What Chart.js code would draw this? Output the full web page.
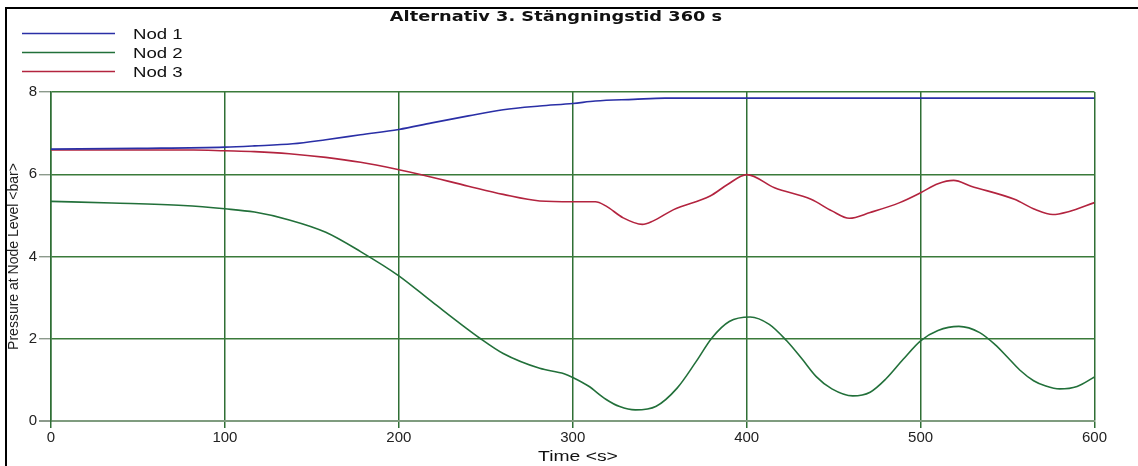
<!DOCTYPE html>
<html lang="sv">
<head>
    <meta charset="UTF-8">
    <title>Alternativ 3. Stängningstid 360 s</title>
    <script src="https://cdn.jsdelivr.net/npm/chart.js@4.4.1/dist/chart.umd.min.js"></script>
    <style>
        body {
            margin: 0;
            padding: 0;
            background: #ffffff;
        }
        .wrap {
            position: relative;
            width: 1138px;
            height: 466px;
        }
    </style>
</head>
<body>
    <div class="wrap">
        <canvas id="pressureChart"></canvas>
    </div>
    <script>
        const chartTitle = 'Alternativ 3. Stängningstid 360 s';
        const xTitle = 'Time <s>';
        const yTitle = 'Pressure at Node Level <bar>';
        const seriesNames = ['Nod 1', 'Nod 2', 'Nod 3'];

        // Nod 1 - pressure (bar) against time (s)
        const nod1Time = [0, 50, 100, 117, 139, 158, 178, 200, 219, 240, 260, 281, 300, 313, 335, 353, 400, 500, 600];
        const nod1Bar  = [6.61, 6.63, 6.66, 6.69, 6.74, 6.84, 6.96, 7.09, 7.25, 7.42, 7.57, 7.66, 7.72, 7.78, 7.82, 7.85, 7.85, 7.85, 7.85];

        // Nod 2
        const nod2Time = [0, 35, 76, 100, 117, 137, 158, 178, 200, 219, 247, 260, 281, 295, 300, 309, 319, 327, 336, 348,
                          360, 371, 380, 390, 402, 413, 423, 432, 440, 449, 461, 471, 480, 490, 500, 510, 522, 534, 543, 550,
                          557, 565, 572, 580, 590, 600];
        const nod2Bar  = [5.34, 5.30, 5.24, 5.16, 5.08, 4.89, 4.59, 4.12, 3.53, 2.90, 2.00, 1.64, 1.28, 1.15, 1.06, 0.85, 0.53, 0.35, 0.27, 0.36,
                          0.80, 1.45, 2.02, 2.42, 2.53, 2.35, 1.95, 1.50, 1.08, 0.78, 0.61, 0.70, 1.02, 1.50, 1.95, 2.20, 2.30, 2.15, 1.85, 1.55,
                          1.24, 0.98, 0.85, 0.78, 0.84, 1.07];

        // Nod 3
        const nod3Time = [0, 82, 100, 117, 137, 158, 178, 200, 213, 240, 260, 281, 300, 313, 319, 329, 340, 346, 358, 379,
                          389, 400, 416, 437, 449, 459, 471, 488, 500, 510, 519, 529, 554, 566, 576, 585, 600];
        const nod3Bar  = [6.59, 6.59, 6.57, 6.55, 6.50, 6.41, 6.29, 6.11, 5.99, 5.71, 5.51, 5.35, 5.33, 5.33, 5.23, 4.94, 4.78, 4.86, 5.14, 5.47,
                          5.75, 5.99, 5.67, 5.39, 5.11, 4.93, 5.07, 5.31, 5.55, 5.77, 5.85, 5.71, 5.39, 5.14, 5.02, 5.09, 5.31];

        const lineColors = ['#2a2fa6', '#22703a', '#b3243f'];

        function toPoints(times, values) {
            return times.map((t, i) => ({ x: t, y: values[i] }));
        }

        // draw text widened sideways like the old plot window
        function wideText(ctx, text, x, y, font, sx, align) {
            ctx.save();
            ctx.translate(x, y);
            ctx.scale(sx, 1);
            ctx.font = font;
            ctx.textAlign = align;
            ctx.textBaseline = 'middle';
            ctx.fillStyle = '#111';
            ctx.fillText(text, 0, 0);
            ctx.restore();
        }

        // frame, title, legend and x-axis caption
        const decorPlugin = {
            id: 'decor',
            afterDraw(chart) {
                const ctx = chart.ctx;
                ctx.save();
                ctx.fillStyle = '#000';
                ctx.fillRect(5, 7, chart.width, 2);
                ctx.fillRect(5, 7, 2, chart.height);

                wideText(ctx, chartTitle, 556, 17, 'bold 14px "DejaVu Sans"', 1.27, 'center');

                chart.data.datasets.forEach((ds, i) => {
                    const y = 33.5 + i * 19;
                    ctx.strokeStyle = ds.borderColor;
                    ctx.lineWidth = 1.3;
                    ctx.beginPath();
                    ctx.moveTo(22, y);
                    ctx.lineTo(115, y);
                    ctx.stroke();
                    wideText(ctx, ds.label, 133, y + 1.5, '14px "Liberation Sans"', 1.33, 'left');
                });

                wideText(ctx, xTitle, 578, 457.5, '14px "Liberation Sans"', 1.38, 'center');
                ctx.restore();
            }
        };

        const ctx = document.getElementById('pressureChart').getContext('2d');
        const pressureChart = new Chart(ctx, {
            type: 'line',
            data: {
                datasets: [
                    { label: seriesNames[0], data: toPoints(nod1Time, nod1Bar), borderColor: lineColors[0] },
                    { label: seriesNames[1], data: toPoints(nod2Time, nod2Bar), borderColor: lineColors[1] },
                    { label: seriesNames[2], data: toPoints(nod3Time, nod3Bar), borderColor: lineColors[2] }
                ].map(ds => Object.assign(ds, {
                    borderWidth: 1.6,
                    pointRadius: 0,
                    fill: false,
                    cubicInterpolationMode: 'monotone'
                }))
            },
            options: {
                responsive: true,
                maintainAspectRatio: false,
                devicePixelRatio: 1,
                animation: false,
                layout: { padding: { top: 92, right: 43.5, bottom: 0, left: 0 } },
                plugins: {
                    legend: { display: false },
                    title: { display: false },
                    tooltip: { enabled: false }
                },
                scales: {
                    x: {
                        type: 'linear',
                        min: 0,
                        max: 600,
                        afterFit: scale => { scale.height = 45; },
                        ticks: {
                            stepSize: 100,
                            padding: 1,
                            color: '#222',
                            font: { family: '"Liberation Sans", Arial', size: 15 },
                            maxRotation: 0
                        },
                        grid: {
                            color: '#2f6f35',
                            lineWidth: 1.5,
                            tickLength: 7,
                            tickColor: '#2f6f35'
                        },
                        border: { display: true, color: '#7f9c7f', width: 2 }
                    },
                    y: {
                        min: 0,
                        max: 8,
                        afterFit: scale => { scale.width = 51; },
                        ticks: {
                            stepSize: 2,
                            padding: 2,
                            color: '#222',
                            font: { family: '"Liberation Sans", Arial', size: 15 }
                        },
                        grid: {
                            color: c => (c.tick && c.tick.value === 0) ? '#7f9c7f' : '#3a7a3a',
                            lineWidth: c => (c.tick && c.tick.value === 0) ? 2 : 1.4,
                            tickLength: 12,
                            tickColor: '#8c9a8c'
                        },
                        border: { display: true, color: '#2f6f35', width: 1.5 },
                        title: {
                            display: true,
                            text: yTitle,
                            color: '#222',
                            font: { family: '"Liberation Sans", Arial', size: 14 },
                            padding: { top: 6, bottom: 0 }
                        }
                    }
                }
            },
            plugins: [decorPlugin]
        });
    </script>
</body>
</html>
